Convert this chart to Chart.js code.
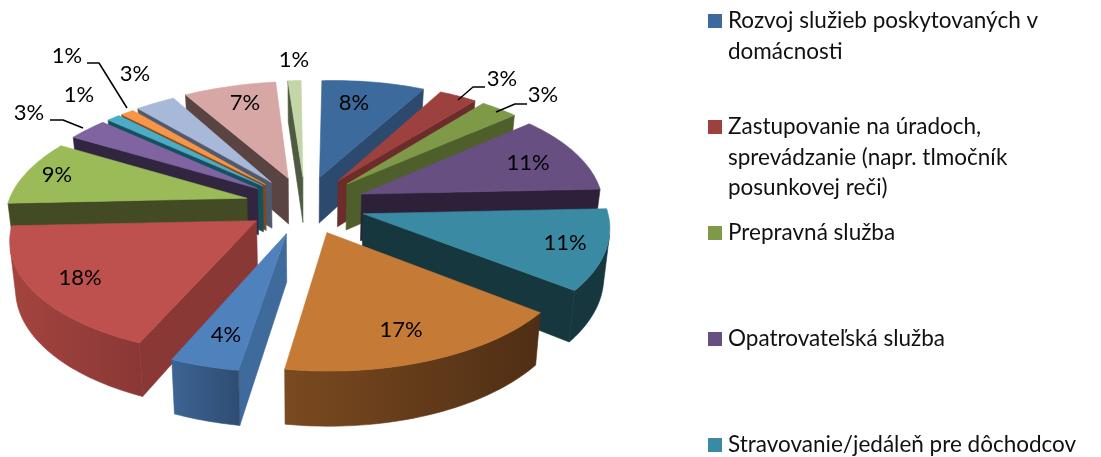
<!DOCTYPE html>
<html lang="sk"><head><meta charset="utf-8">
<style>html,body{margin:0;padding:0;background:#fff;overflow:hidden}canvas{display:block}</style>
<script src="https://cdn.jsdelivr.net/npm/chart.js@4/dist/chart.umd.min.js"></script>
</head><body><canvas id="c" width="1101" height="457"></canvas>
<script>
// --- data ---
const categories = [
  "Rozvoj služieb poskytovaných v domácnosti",
  "Zastupovanie na úradoch, sprevádzanie (napr. tlmočník posunkovej reči)",
  "Prepravná služba",
  "Opatrovateľská služba",
  "Stravovanie/jedáleň pre dôchodcov"
];
const shares = [8, 3, 3, 11, 11, 17, 4, 18, 9, 3, 1, 1, 3, 7, 1];
// --- colours ---
const topColors  = ["#3C6A9C","#9C413E","#7E9A48","#674F82","#3A8AA3","#C57A36","#4F81BD","#BE504D","#9BBB59","#8064A2","#4BACC6","#F79646","#A7B8D8","#D7A7A6","#C4D6A8"];
const wallColors = ["#2C4A6E","#6B2C2A","#4E5F2C","#2D2139","#17373F","#4F2E14","#3F6A9C","#8A3836","#424B23","#32253F","#16505E","#7D4A1E","#4F5A6E","#5A4442","#4F5A42"];
const rimLeft    = ["#2C4A6E","#6B2C2A","#4E5F2C","#2D2139","#17373F","#7A4A20","#3C6494","#A5443F","#424B23","#32253F","#16505E","#7D4A1E","#4F5A6E","#5A4442","#4F5A42"];
const rimRight   = ["#2C4A6E","#6B2C2A","#4E5F2C","#2D2139","#17373F","#4F2E14","#2F4D72","#8A3836","#424B23","#32253F","#16505E","#7D4A1E","#4F5A6E","#5A4442","#4F5A42"];
// --- styling / layout ---
const explode    = [46,46,46,46,46,46,46,43,46,46,46,46,46,46,46];
const sliceNudge = [0,0,0,0,0,0,0,0,0,0,0,0,-1,-5,-6];
const labelPos = [[354,103],[502,79],[543,95],[528,163],[565,243],[401,330],[226,335],[80,278],[57,175],[29,113],[79,95],[67,56],[135,74],[245,103],[294,60]];
const leaderPoints = {1:[[458,100],[473,87],[485,87]],2:[[496,112],[515,104],[527,104]],9:[[83,128],[63,120],[50,120]],11:[[127,108],[99,63],[87,63]]};
const FONT = "Lato, Carlito, Calibri, sans-serif";
const legendLeft = 708, legendText = 728, legendTop = 21, legendStep = 106, legendLine = 30.6, legendWrap = 360;

const view = {sx:1.324, sz:0.629, depth:0.258, persp:0.12, tilt:5, shrink:0.98};

function projector(arc, i){
  const R = arc.outerRadius, cx = arc.x, cy = arc.y;
  const d = arc.options.offset / R;
  const mid = (arc.startAngle + arc.endAngle)/2 + Math.PI/2;
  const ox = d*Math.sin(mid), oz = d*Math.cos(mid);
  return (r, ang, h) => {
    const t = ang + Math.PI/2;
    const X = ox + r*Math.sin(t), Z = oz + r*Math.cos(t);
    const w = 1 + view.persp*Z;
    let x = cx + R*view.sx*X/w + 4*Z*Z - 2*Z + sliceNudge[i]*r;
    const y = cy - R*view.sz*Z/w - view.tilt*X + h*R*view.depth/w;
    if (h) x = cx + (x-cx)*view.shrink;
    return [x,y];
  };
}
function poly(ctx, pts, fill){
  ctx.beginPath();
  pts.forEach((p,i)=> i?ctx.lineTo(p[0],p[1]):ctx.moveTo(p[0],p[1]));
  ctx.closePath();
  ctx.fillStyle = fill; ctx.strokeStyle = fill; ctx.lineWidth = 0.6;
  ctx.fill(); ctx.stroke();
}
function area(pts){
  let s=0; pts.forEach((p,i)=>{const q=pts[(i+1)%pts.length]; s+=p[0]*q[1]-q[0]*p[1];}); return s;
}
function drawSlice(ctx, arc, i){
  const P = projector(arc, i), N = Math.max(6, Math.ceil((arc.endAngle-arc.startAngle)*40));
  const a0 = arc.startAngle, a1 = arc.endAngle, rim = [], rimB = [];
  for(let k=0;k<=N;k++){const a=a0+(a1-a0)*k/N; rim.push(P(1,a,0)); rimB.push(P(1,a,1));}
  const ap = P(0,a0,0), apB = P(0,a0,1);
  const wall1=[ap,rim[0],rimB[0],apB], wall2=[rim[N],ap,apB,rimB[N]];
  if(area(wall1)<0) poly(ctx,wall1,wallColors[i]);
  if(area(wall2)<0) poly(ctx,wall2,wallColors[i]);
  // outer rim: one polygon per contiguous front-facing run, so no seams appear
  const xs = rim.map(p=>p[0]);
  const g = ctx.createLinearGradient(Math.min(...xs),0,Math.max(...xs),0);
  g.addColorStop(0,rimLeft[i]); g.addColorStop(1,rimRight[i]);
  let top=[], bot=[];
  const flush=()=>{ if(top.length>1) poly(ctx,[...top,...bot.slice().reverse()],g); top=[]; bot=[]; };
  for(let k=0;k<N;k++){
    if(area([rim[k],rim[k+1],rimB[k+1],rimB[k]])<0){
      if(!top.length){top.push(rim[k]);bot.push(rimB[k]);}
      top.push(rim[k+1]);bot.push(rimB[k+1]);
    } else flush();
  }
  flush();
  poly(ctx,[ap,...rim],arc.options.backgroundColor);
}
const pie3d = {
  id:'pie3d',
  beforeDatasetsDraw(chart){
    const ctx = chart.ctx, arcs = chart.getDatasetMeta(0).data;
    const order = arcs.map((a,i)=>{const m=(a.startAngle+a.endAngle)/2+Math.PI/2; return {a,i,z:Math.cos(m)};}).sort((p,q)=>q.z-p.z);
    ctx.save();
    order.forEach(o=>drawSlice(ctx,o.a,o.i));
    // leaders
    ctx.strokeStyle="#000"; ctx.lineWidth=1.5; ctx.lineJoin="round";
    Object.keys(leaderPoints).forEach(k=>{
      ctx.beginPath();
      leaderPoints[k].forEach((p,j)=> j?ctx.lineTo(p[0],p[1]):ctx.moveTo(p[0],p[1]));
      ctx.stroke();
    });
    // percent labels
    const total = shares.reduce((s,v)=>s+v,0);
    ctx.font = "22px "+FONT; ctx.fillStyle="#000"; ctx.textAlign="center"; ctx.textBaseline="middle";
    shares.forEach((v,i)=>ctx.fillText(Math.round(v/total*100)+"%",labelPos[i][0],labelPos[i][1]));
    // legend
    ctx.textAlign="left";
    ctx.font = "22.5px "+FONT;
    chart.data.labels.forEach((name,i)=>{
      const y0 = legendTop + i*legendStep;
      ctx.fillStyle = topColors[i];
      ctx.fillRect(legendLeft,y0-7,14,14);
      ctx.fillStyle="#111";
      let line="", y=y0;
      name.split(" ").forEach(word=>{
        const t = line?line+" "+word:word;
        if(ctx.measureText(t).width>legendWrap && line){ctx.fillText(line,legendText,y); y+=legendLine; line=word;}
        else line=t;
      });
      ctx.fillText(line,legendText,y);
    });
    ctx.restore();
    return false;
  }
};
new Chart(document.getElementById('c'),{
  type:'pie',
  data:{labels:categories,datasets:[{data:shares,backgroundColor:topColors,borderWidth:0,offset:explode}]},
  options:{responsive:false,animation:false,rotation:0,
    layout:{padding:{left:0,top:0,right:491,bottom:47}},
    plugins:{legend:{display:false},tooltip:{enabled:false},title:{display:false}}},
  plugins:[pie3d]
});
</script></body></html>
